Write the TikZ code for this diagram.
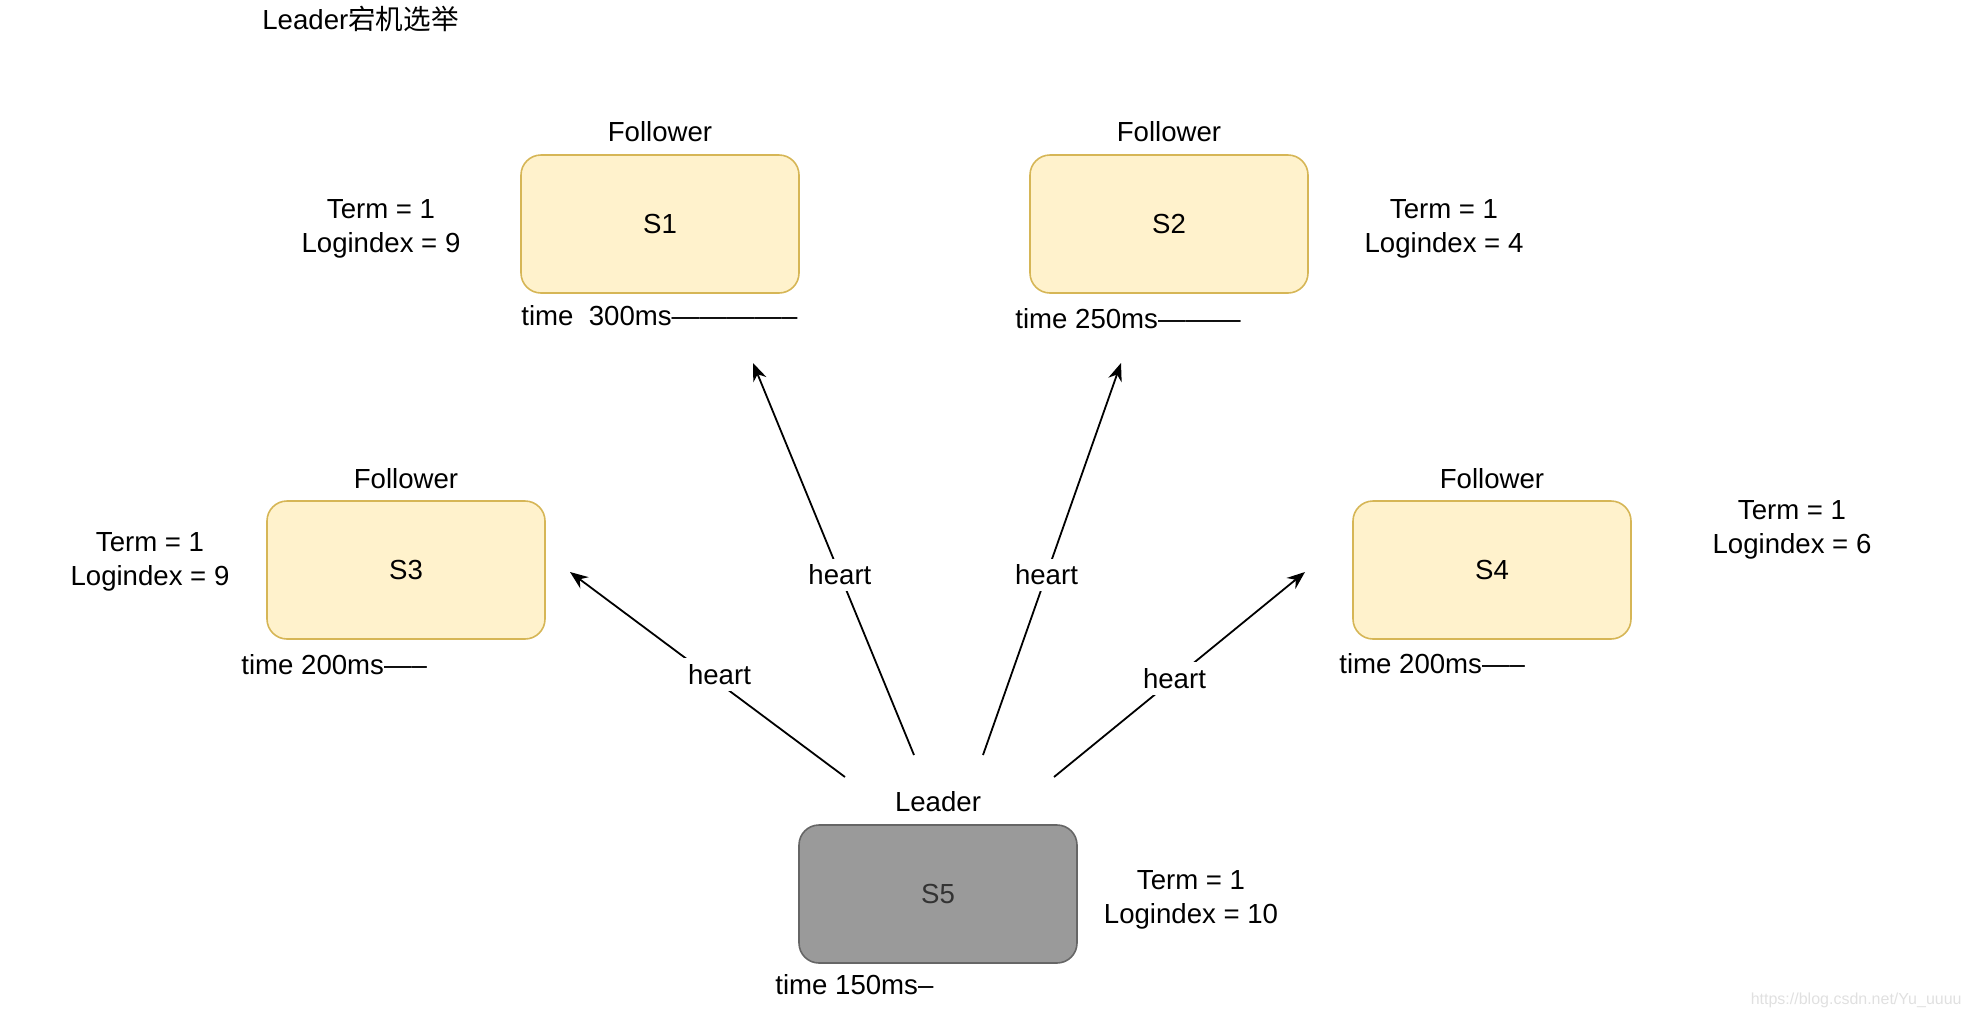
\documentclass[tikz,border=0pt]{standalone}
\usepackage{fontspec}
\setmainfont{Liberation Sans}
\newfontfamily\cjk{Noto Sans CJK SC}
\usetikzlibrary{arrows.meta}

\definecolor{flwfill}{HTML}{FFF2CC}
\definecolor{flwline}{HTML}{D6B656}
\definecolor{ldrfill}{HTML}{9A9A9A}
\definecolor{ldrline}{HTML}{666666}
\definecolor{ldrtext}{HTML}{333333}

\tikzset{
  flwbox/.style={draw=flwline, fill=flwfill, line width=0.8pt, rounded corners=10pt,
    minimum width=139pt, minimum height=69pt},
  ldrbox/.style={draw=ldrline, fill=ldrfill, text=ldrtext, line width=0.8pt, rounded corners=10pt,
    minimum width=139pt, minimum height=69pt},
  stats/.style={align=center, font=\fontsize{13.8pt}{17pt}\selectfont},
  timer/.style={anchor=west, inner sep=0pt},
  beat/.style={-{Stealth[length=9pt,width=7pt]}, line width=0.9pt},
  beatlbl/.style={fill=white, inner sep=3pt},
}

\begin{document}
\begin{tikzpicture}[x=0.5pt,y=0.5pt,yscale=-1,font=\fontsize{13.8pt}{16.5pt}\selectfont]
    \useasboundingbox (0,0) rectangle (1972,1018);

    % Text Node
    \draw (262,19) node (title) [anchor=west, inner sep=0pt] {Leader{\cjk 宕机选举}};

    %Shape: Rounded Rect
    \draw (660,224) node (s1) [flwbox] {S1};
    %Shape: Rounded Rect
    \draw (1169,224) node (s2) [flwbox] {S2};
    %Shape: Rounded Rect
    \draw (406,570) node (s3) [flwbox] {S3};
    %Shape: Rounded Rect
    \draw (1492,570) node (s4) [flwbox] {S4};
    %Shape: Rounded Rect
    \draw (938,894) node (s5) [ldrbox] {S5};

    % Text Node
    \draw (660,132) node (r1) {Follower};
    % Text Node
    \draw (1169,132) node (r2) {Follower};
    % Text Node
    \draw (406,479) node (r3) {Follower};
    % Text Node
    \draw (1492,479) node (r4) {Follower};
    % Text Node
    \draw (938,802) node (r5) {Leader};

    % Text Node
    \draw (381,229) node (t1) [stats] {Term = 1\\Logindex = 9};
    % Text Node
    \draw (1444,229) node (t2) [stats] {Term = 1\\Logindex = 4};
    % Text Node
    \draw (150,562) node (t3) [stats] {Term = 1\\Logindex = 9};
    % Text Node
    \draw (1792,530) node (t4) [stats] {Term = 1\\Logindex = 6};
    % Text Node
    \draw (1191,900) node (t5) [stats] {Term = 1\\Logindex = 10};

    % Text Node
    \draw (521,316) node (c1) [timer] {time\ \ 300ms————–};
    % Text Node
    \draw (1015,319) node (c2) [timer] {time 250ms———};
    % Text Node
    \draw (241,665) node (c3) [timer] {time 200ms—–};
    % Text Node
    \draw (1339,664) node (c4) [timer] {time 200ms—–};
    % Text Node
    \draw (775,985) node (c5) [timer] {time 150ms–};

    % heartbeat ends
    \coordinate (h1a) at (845,777);
    \coordinate (h1b) at (570,572);
    \coordinate (h2a) at (914,755);
    \coordinate (h2b) at (753,363);
    \coordinate (h3a) at (983,755);
    \coordinate (h3b) at (1121,363);
    \coordinate (h4a) at (1054,777);
    \coordinate (h4b) at (1305,572);

    %Straight Lines [heart]
    \draw [beat] (h1a) -- node[beatlbl, pos=0.5, xshift=6pt] {heart} (h1b);
    \draw [beat] (h2a) -- node[beatlbl, pos=0.46] {heart} (h2b);
    \draw [beat] (h3a) -- node[beatlbl, pos=0.46] {heart} (h3b);
    \draw [beat] (h4a) -- node[beatlbl, pos=0.48] {heart} (h4b);

    % Text Node
    \draw (1962,1000) node (mark) [anchor=east, inner sep=0pt, text=black!12, font=\fontsize{8pt}{10pt}\selectfont] {https://blog.csdn.net/Yu\_uuuu};

\end{tikzpicture}
\end{document}
